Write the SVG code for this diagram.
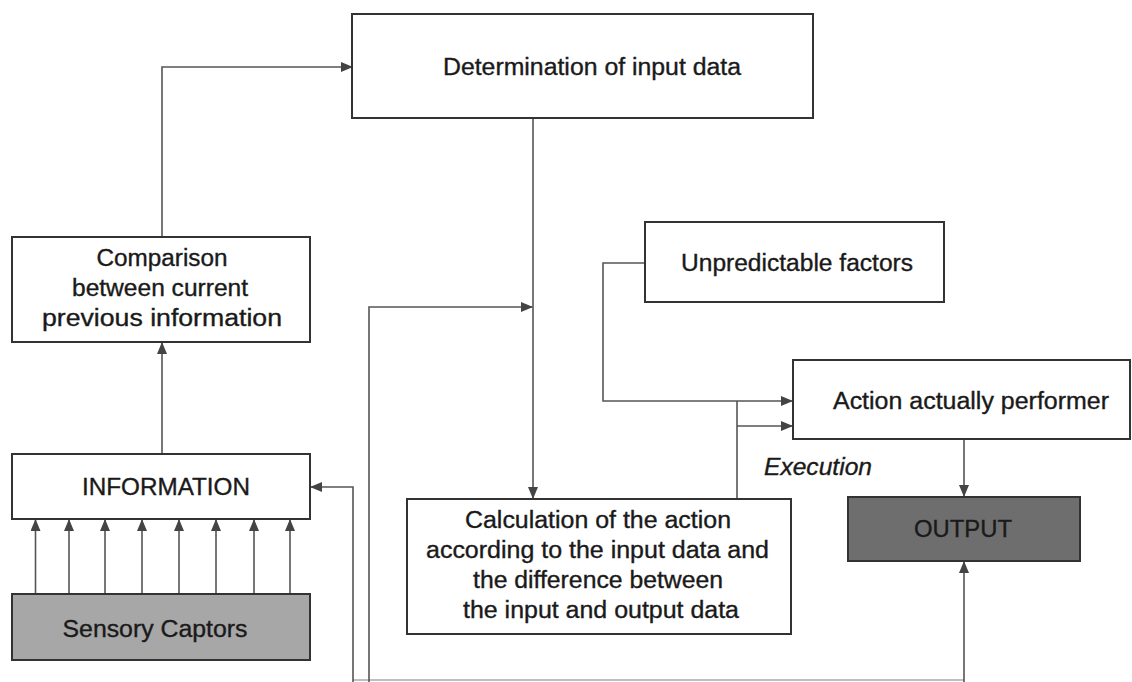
<svg xmlns="http://www.w3.org/2000/svg" width="1132" height="682" viewBox="0 0 1132 682">
<defs>
<marker id="ah" markerWidth="12" markerHeight="10" refX="11" refY="5" orient="auto" markerUnits="userSpaceOnUse">
<path d="M0,0 L12,5 L0,10 Z" fill="#444"/>
</marker>
<style>
.box{fill:#fff;stroke:#333;stroke-width:2}
.t{font-family:"Liberation Sans",Arial,sans-serif;font-size:23px;fill:#1a1a1a;stroke:#1a1a1a;stroke-width:0.35;text-anchor:middle}
.c{fill:none;stroke:#555;stroke-width:1.6}
</style>
</defs>
<rect width="1132" height="682" fill="#fff"/>
<g id="connectors">
<path class="c" d="M162,237 V67 H352" marker-end="url(#ah)"/>
<path class="c" d="M162,453 V343" marker-end="url(#ah)"/>
<path class="c" d="M35.5,594 V520" marker-end="url(#ah)"/>
<path class="c" d="M69,594 V520" marker-end="url(#ah)"/>
<path class="c" d="M105,594 V520" marker-end="url(#ah)"/>
<path class="c" d="M142,594 V520" marker-end="url(#ah)"/>
<path class="c" d="M179,594 V520" marker-end="url(#ah)"/>
<path class="c" d="M216,594 V520" marker-end="url(#ah)"/>
<path class="c" d="M254,594 V520" marker-end="url(#ah)"/>
<path class="c" d="M290,594 V520" marker-end="url(#ah)"/>
<path class="c" d="M533,118 V498" marker-end="url(#ah)"/>
<path class="c" d="M353,682 V487 H311" marker-end="url(#ah)"/>
<path class="c" d="M369,682 V307 H532" marker-end="url(#ah)"/>
<path class="c" d="M353,680 H964" stroke-opacity="0.5"/>
<path class="c" d="M645,263 H603 V401 H792" marker-end="url(#ah)"/>
<path class="c" d="M737,499 V401"/>
<path class="c" d="M737,426 H792" marker-end="url(#ah)"/>
<path class="c" d="M964,439 V496" marker-end="url(#ah)"/>
<path class="c" d="M964,682 V562" marker-end="url(#ah)"/>
</g>
<g id="determination">
<rect class="box" x="352" y="14" width="461" height="104"/>
<text class="t" x="592" y="75" textLength="298" lengthAdjust="spacingAndGlyphs">Determination of input data</text>
</g>
<g id="comparison">
<rect class="box" x="12" y="237" width="298" height="105"/>
<text class="t" x="162" y="266" textLength="131" lengthAdjust="spacingAndGlyphs">Comparison</text>
<text class="t" x="160" y="296" textLength="176" lengthAdjust="spacingAndGlyphs">between current</text>
<text class="t" x="162" y="326" textLength="240" lengthAdjust="spacingAndGlyphs">previous information</text>
</g>
<g id="information">
<rect class="box" x="12" y="454" width="298" height="65"/>
<text class="t" x="166" y="495" textLength="168" lengthAdjust="spacingAndGlyphs">INFORMATION</text>
</g>
<g id="sensory">
<rect class="box" x="12" y="594" width="298" height="66" style="fill:#a7a7a7"/>
<text class="t" x="155" y="637" textLength="185" lengthAdjust="spacingAndGlyphs">Sensory Captors</text>
</g>
<g id="unpredictable">
<rect class="box" x="645" y="222" width="299" height="80"/>
<text class="t" x="797" y="271" textLength="232" lengthAdjust="spacingAndGlyphs">Unpredictable factors</text>
</g>
<g id="action">
<rect class="box" x="793" y="360" width="337" height="79"/>
<text class="t" x="971" y="409" textLength="276" lengthAdjust="spacingAndGlyphs">Action actually performer</text>
</g>
<g id="execution">
<text class="t" x="764" y="475" textLength="108" lengthAdjust="spacingAndGlyphs" style="text-anchor:start;font-style:italic">Execution</text>
</g>
<g id="calculation">
<rect class="box" x="407" y="499" width="384" height="135"/>
<text class="t" x="598" y="528" textLength="266" lengthAdjust="spacingAndGlyphs">Calculation of the action</text>
<text class="t" x="597.5" y="558" textLength="343" lengthAdjust="spacingAndGlyphs">according to the input data and</text>
<text class="t" x="598" y="588" textLength="250" lengthAdjust="spacingAndGlyphs">the difference between</text>
<text class="t" x="601" y="618" textLength="276" lengthAdjust="spacingAndGlyphs">the input and output data</text>
</g>
<g id="output">
<rect class="box" x="848" y="497" width="232" height="64" style="fill:#6e6e6e"/>
<text class="t" x="963" y="537" textLength="98" lengthAdjust="spacingAndGlyphs">OUTPUT</text>
</g>
</svg>
